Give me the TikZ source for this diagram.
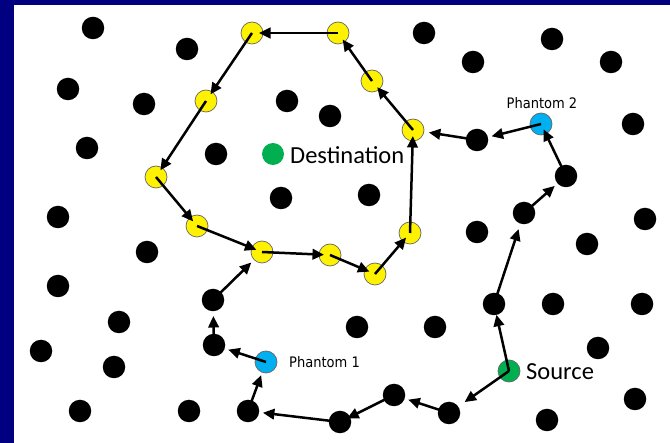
\documentclass[tikz,border=0pt]{standalone}
\usepackage{fontspec}
\setmainfont{Carlito}
\newfontfamily\phfont{DejaVu Sans Condensed}
\usetikzlibrary{arrows.meta}
\definecolor{frame}{HTML}{000080}
\definecolor{ghost}{HTML}{00B0F0}
\definecolor{goal}{HTML}{00B050}
\begin{document}
\begin{tikzpicture}[x=1pt,y=-1pt,
  dot/.style={circle,fill=black,minimum size=22.5pt,inner sep=0pt},
  ydot/.style={circle,fill=yellow,draw=black!60,line width=0.7pt,minimum size=22pt,inner sep=0pt},
  pdot/.style={circle,fill=ghost,draw=black!60,line width=0.7pt,minimum size=22pt,inner sep=0pt},
  sdot/.style={circle,fill=goal,draw=black!60,line width=0.7pt,minimum size=22pt,inner sep=0pt},
  ddot/.style={circle,fill=goal,minimum size=22pt,inner sep=0pt},
  big/.style={font=\fontsize{24.5}{28}\selectfont,inner sep=0pt},
  small/.style={font=\phfont\fontsize{14.5}{17}\selectfont,inner sep=0pt},
  link/.style={-{Triangle[length=11.5pt,width=10.5pt]},line width=2.5pt,shorten >=15pt},
  ylink/.style={link,shorten >=6pt}]
% frame and canvas
\fill[frame] (0,0) rectangle (670,443);
\fill[white] (14,5) rectangle (670,443);
\useasboundingbox (0,0) rectangle (670,443);

% idle nodes
\foreach \n/\x/\y in {b1/93/28, b2/187/49, b3/68/89, b4/144/104, b5/87/148,
  b6/216/154, b7/287/101, b8/330/116, b9/281/198, b10/58/217, b11/424/33,
  b12/473/62, b13/552/39, b14/611/62, b15/633/124, b16/369/195, b17/645/219,
  b18/477/232, b19/147/252, b20/58/286, b21/119/322, b22/41/351, b23/114/367,
  b24/80/411, b25/189/411, b26/587/244, b27/553/304, b28/642/304, b29/357/327,
  b30/435/327, b31/598/348, b32/635/399, b33/547/420}
  \node[dot] (\n) at (\x,\y) {};

% relay nodes
\node[dot] (s1) at (449,413) {};
\node[dot] (s2) at (394,395) {};
\node[dot] (s3) at (340,422) {};
\node[dot] (s4) at (248,411) {};
\node[dot] (s5) at (214,345) {};
\node[dot] (s6) at (213,300) {};
\node[dot] (r1) at (494,304) {};
\node[dot] (r2) at (524,213) {};
\node[dot] (r3) at (566,176) {};
\node[dot] (r4) at (477,140) {};

% ring around the destination
\foreach \n/\x/\y in {y1/197/226, y2/262/252, y3/330/255, y4/375/274,
  y5/410/233, y6/413/130, y7/372/81, y8/338/33, y9/252/33, y10/206/101,
  y11/156/177}
  \node[ydot] (\n) at (\x,\y) {};

% special nodes
\node[pdot] (p1) at (266,362) {};
\node[pdot] (p2) at (541,124) {};
\node[sdot] (src) at (509,371) {};
\node[ddot] (dst) at (273,154) {};

% labels
\node[big,anchor=west] (dstlbl) at (290,155) {Destination};
\node[big,anchor=west] (srclbl) at (526,372) {Source};
\node[small] (p2lbl) at (542,103) {Phantom 2};
\node[small,anchor=west] (p1lbl) at (289,362) {Phantom 1};

% route via phantom 1
\draw[link,shorten >=19pt] (src.center) -- (s1.center);
\draw[link] (s1.center) -- (s2.center);
\draw[link,shorten >=8pt] (s2.center) -- (s3.center);
\draw[link] (s3.center) -- (s4.center);
\draw[link,shorten >=14pt] (s4.center) -- (p1.center);
\draw[link] (p1.center) -- (s5.center);
\draw[link,shorten >=16pt] (s5.center) -- (s6.center);
\draw[link] (s6.center) -- (y2.center);

% route via phantom 2
\draw[link,shorten >=11pt] (src.center) -- (r1.center);
\draw[link,shorten >=17pt] (r1.center) -- (r2.center);
\draw[link] (r2.center) -- (r3.center);
\draw[ylink] (r3.center) -- (p2.center);
\draw[link] (p2.center) -- (r4.center);
\draw[link,shorten >=16pt] (r4.center) -- (y6.center);

% circulation on the ring
\draw[ylink] (y1.center) -- (y2.center);
\draw[ylink] (y2.center) -- (y3.center);
\draw[ylink] (y3.center) -- (y4.center);
\draw[ylink] (y4.center) -- (y5.center);
\draw[ylink] (y5.center) -- (y6.center);
\draw[ylink,shorten >=8pt] (y6.center) -- (y7.center);
\draw[ylink,shorten >=8pt] (y7.center) -- (y8.center);
\draw[ylink,shorten >=7pt] (y8.center) -- (y9.center);
\draw[ylink,shorten >=8pt] (y9.center) -- (y10.center);
\draw[ylink,shorten >=8pt] (y10.center) -- (y11.center);
\draw[ylink] (y11.center) -- (y1.center);
\end{tikzpicture}
\end{document}
